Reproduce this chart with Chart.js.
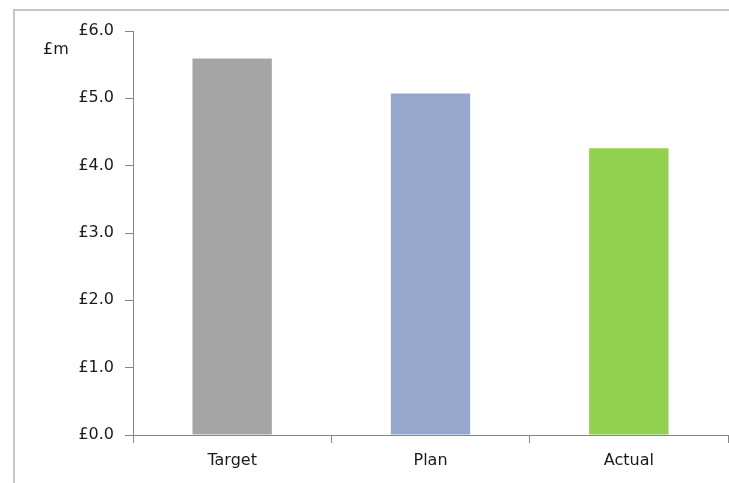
<!DOCTYPE html>
<html>
<head>
<meta charset="utf-8">
<script src="https://cdn.jsdelivr.net/npm/chart.js@4/dist/chart.umd.min.js"></script>
<style>
    html, body { margin: 0; padding: 0; background: #fff; overflow: hidden; }
    #wrap { position: relative; width: 729px; height: 483px; }
    #frame {
        position: absolute; left: 13px; top: 9px; width: 800px; height: 600px;
        border: 2px solid #c6c6c6; box-sizing: border-box;
    }
    #unit {
        position: absolute; left: 43px; top: 39px;
        font: 16px "DejaVu Sans", sans-serif; color: #1a1a1a;
    }
    canvas { position: absolute; left: 0; top: 0; }
</style>
</head>
<body>
<div id="wrap">
    <div id="frame"></div>
    <canvas id="chart" width="729" height="483"></canvas>
    <div id="unit">£m</div>
</div>
<script>
// values (£m)
const categories = ['Target', 'Plan', 'Actual'];
const values = [5.59, 5.07, 4.26];
const barColors = ['#a5a5a5', '#95a8cc', '#92d050'];
const yTicks = [0, 1, 2, 3, 4, 5, 6];

const axisGrey = '#868686';
const textColor = '#1a1a1a';
const font = { family: '"DejaVu Sans", sans-serif', size: 16 };

new Chart(document.getElementById('chart'), {
    type: 'bar',
    data: {
        labels: categories,
        datasets: [{
            data: values,
            backgroundColor: barColors,
            borderWidth: 0,
            barPercentage: 0.4,
            categoryPercentage: 1,
        }],
    },
    options: {
        responsive: false,
        animation: false,
        layout: { padding: { top: 31, right: 1, left: 0, bottom: 0 } },
        plugins: {
            legend: { display: false },
            tooltip: { enabled: false },
        },
        scales: {
            x: {
                offset: true,
                grid: {
                    offset: true,
                    drawOnChartArea: false,
                    tickLength: 8,
                    color: axisGrey,
                },
                border: { color: axisGrey, width: 1 },
                ticks: { color: textColor, font: font, padding: 8 },
                afterFit: (scale) => { scale.height = 48; },
            },
            y: {
                min: 0,
                max: 6,
                afterBuildTicks: (scale) => {
                    scale.ticks = yTicks.map(v => ({ value: v }));
                },
                grid: {
                    drawOnChartArea: false,
                    tickLength: 8,
                    color: axisGrey,
                },
                border: { color: axisGrey, width: 1 },
                ticks: {
                    color: textColor,
                    font: font,
                    padding: 11,
                    callback: (v) => '£' + Number(v).toFixed(1),
                },
                afterFit: (scale) => { scale.width = 133; },
            },
        },
    },
});
</script>
</body>
</html>
